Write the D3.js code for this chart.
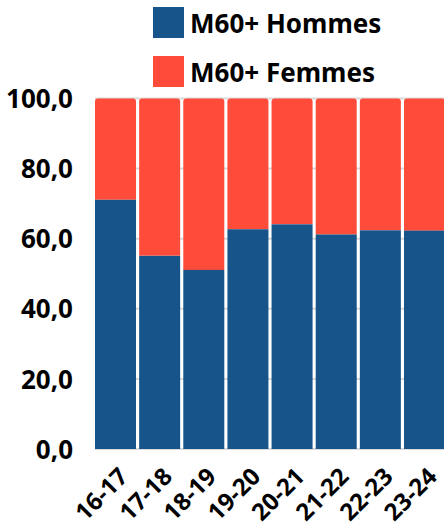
<!DOCTYPE html>
<html>
<head>
<meta charset="utf-8">
<script src="https://cdn.jsdelivr.net/npm/d3@7"></script>
<style>
  body { margin: 0; background: #fff; }
  text { font-family: "Noto Sans", "Open Sans", sans-serif; font-weight: bold; fill: #000; }
</style>
</head>
<body>
<div id="content"></div>
<script>
var seasons = ["16-17", "17-18", "18-19", "19-20", "20-21", "21-22", "22-23", "23-24"];
var hommes = [71.1, 55.1, 51.1, 62.7, 64.1, 61.2, 62.4, 62.3];
var femmes = [28.9, 44.9, 48.9, 37.3, 35.9, 38.8, 37.6, 37.7];
var seriesNames = ["M60+ Hommes", "M60+ Femmes"];
var seriesColors = ["#16548a", "#ff4b3a"];
var yTicks = [0, 20, 40, 60, 80, 100];

var width = 444, height = 528;
var margin = {top: 98.5, right: -1, bottom: 79, left: 95};

var svg = d3.select("#content").append("svg")
  .attr("width", width)
  .attr("height", height);

var x_scale = d3.scaleBand()
  .domain(seasons)
  .range([margin.left, width - margin.right])
  .paddingInner(0.071)
  .paddingOuter(0);

var y_scale = d3.scaleLinear()
  .domain([0, 100])
  .range([height - margin.bottom, margin.top]);

// grid
svg.append("g")
  .selectAll("line")
  .data(yTicks)
  .enter().append("line")
  .attr("x1", margin.left)
  .attr("x2", width)
  .attr("y1", function(d) { return y_scale(d); })
  .attr("y2", function(d) { return y_scale(d); })
  .attr("stroke", "#d9d9d9")
  .attr("stroke-width", 2);

// y axis labels
svg.append("g")
  .attr("transform", "translate(76,0)")
  .call(d3.axisLeft(y_scale).tickValues(yTicks).tickSize(0).tickPadding(3)
    .tickFormat(function(d) { return d3.format(".1f")(d).replace(".", ","); }))
  .call(function(g) { g.select(".domain").remove(); })
  .selectAll("text")
  .attr("font-size", 26)
  .attr("dy", "0.35em")
  .style("font-family", "'Noto Sans', sans-serif")
  .style("font-weight", "bold")
  .attr("fill", "#000");

var rows = seasons.map(function(s, i) {
  return {season: s, hommes: hommes[i], femmes: femmes[i]};
});
var stack = d3.stack().keys(["hommes", "femmes"])(rows);

// rounded top for the full column, then the blue part on top of it
var bars = svg.append("g");
bars.selectAll("path.fem")
  .data(stack[1])
  .enter().append("path")
  .attr("class", "fem")
  .attr("d", function(d) {
    var x0 = x_scale(d.data.season), w = x_scale.bandwidth();
    var y0 = y_scale(d[1]), y1 = y_scale(d[0]), r = 3;
    return "M" + x0 + "," + y1 + "V" + (y0 + r) + "Q" + x0 + "," + y0 + " " + (x0 + r) + "," + y0 +
      "H" + (x0 + w - r) + "Q" + (x0 + w) + "," + y0 + " " + (x0 + w) + "," + (y0 + r) + "V" + y1 + "Z";
  })
  .attr("fill", seriesColors[1]);

bars.selectAll("rect.hom")
  .data(stack[0])
  .enter().append("rect")
  .attr("class", "hom")
  .attr("x", function(d) { return x_scale(d.data.season); })
  .attr("width", x_scale.bandwidth())
  .attr("y", function(d) { return y_scale(d[1]); })
  .attr("height", function(d) { return y_scale(d[0]) - y_scale(d[1]); })
  .attr("fill", seriesColors[0]);

// x axis labels
svg.append("g")
  .selectAll("text")
  .data(seasons)
  .enter().append("text")
  .attr("transform", function(d) {
    return "translate(" + (x_scale(d) + x_scale.bandwidth() / 2 + 14) + ",478) rotate(-45)";
  })
  .attr("text-anchor", "end")
  .attr("font-size", 24)
  .text(function(d) { return d; });

// legend
var legend = svg.append("g")
  .selectAll("g")
  .data(seriesNames)
  .enter().append("g")
  .attr("transform", function(d, i) { return "translate(153," + (7 + i * 49) + ")"; });

legend.append("rect")
  .attr("width", 31)
  .attr("height", 31)
  .attr("fill", function(d, i) { return seriesColors[i]; });

legend.append("text")
  .attr("x", 37)
  .attr("y", 26)
  .attr("font-size", 26)
  .text(function(d) { return d; });
</script>
</body>
</html>
